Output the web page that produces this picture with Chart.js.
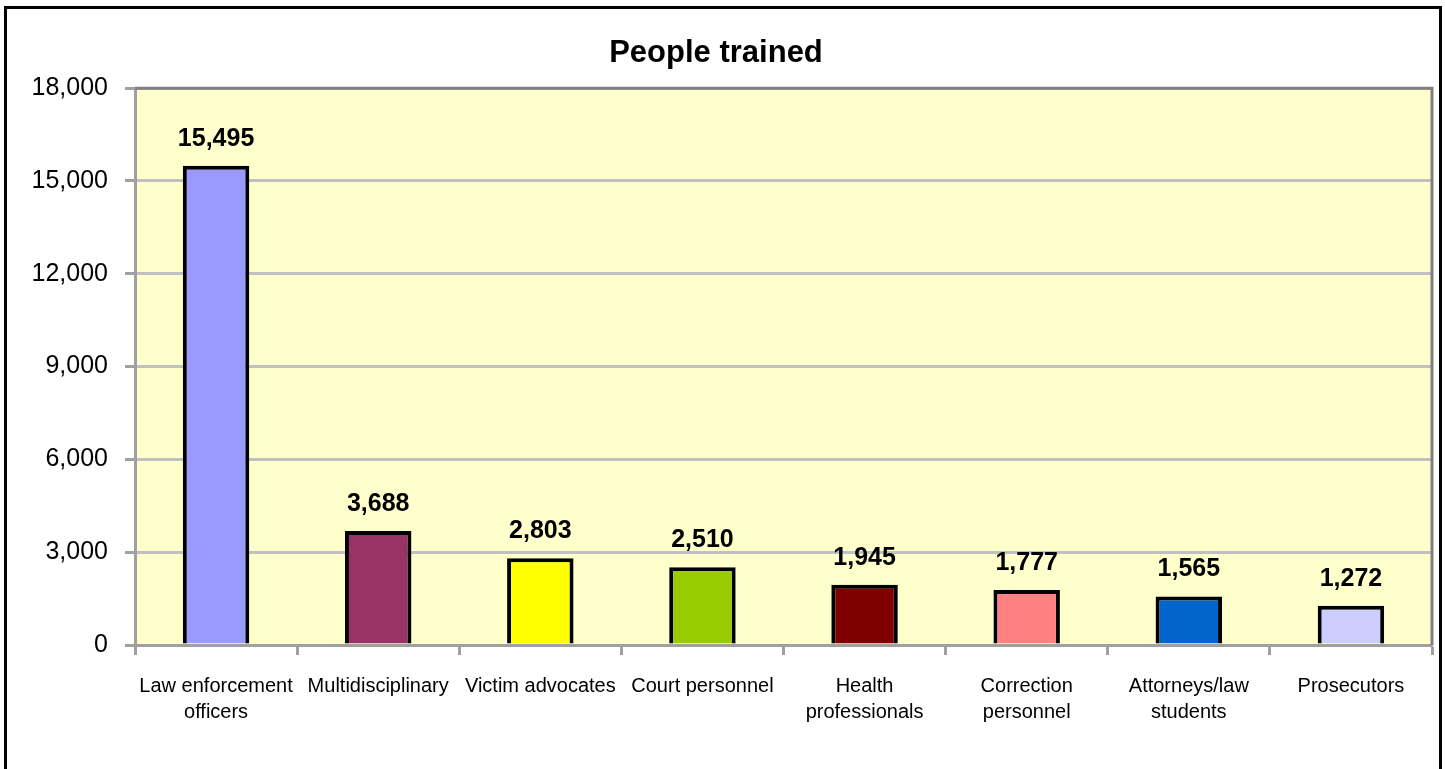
<!DOCTYPE html>
<html>
<head>
<meta charset="utf-8">
<title>People trained</title>
<script src="https://cdn.jsdelivr.net/npm/chart.js@4/dist/chart.umd.min.js"></script>
<style>
  html, body { margin: 0; padding: 0; background: #fff; }
  #wrap { position: relative; width: 1445px; height: 769px; }
</style>
</head>
<body>
<div id="wrap"><canvas id="chart" width="1445" height="769"></canvas></div>
<script>
// ── Data ──────────────────────────────────────────────────────
const categories = [
  ['Law enforcement', 'officers'],
  'Multidisciplinary',
  'Victim advocates',
  'Court personnel',
  ['Health', 'professionals'],
  ['Correction', 'personnel'],
  ['Attorneys/law', 'students'],
  'Prosecutors'
];
const trained = [15495, 3688, 2803, 2510, 1945, 1777, 1565, 1272];
const barColors = ['#9999FF', '#993366', '#FFFF00', '#99CC00', '#800000', '#FF8080', '#0066CC', '#CCCCFF'];
const yTicks = [0, 3000, 6000, 9000, 12000, 15000, 18000];

const FONT = '"Liberation Sans", Arial, sans-serif';

// ── Frame, plot background and plot border ───────────────────
const framePlugin = {
  id: 'frame',
  beforeDraw(chart) {
    const { ctx, chartArea: a } = chart;
    ctx.save();
    ctx.fillStyle = '#FFFFCC';
    ctx.fillRect(a.left, a.top, a.right - a.left, a.bottom - a.top);
    // outer chart frame (bottom edge runs off the picture)
    ctx.strokeStyle = '#000';
    ctx.lineWidth = 3;
    ctx.beginPath();
    ctx.moveTo(5.5, 780);
    ctx.lineTo(5.5, 7.5);
    ctx.lineTo(1440.5, 7.5);
    ctx.lineTo(1440.5, 780);
    ctx.stroke();
    ctx.restore();
  },
  beforeDatasetsDraw(chart) {
    const { ctx, chartArea: a } = chart;
    ctx.save();
    ctx.strokeStyle = '#808080';
    ctx.lineWidth = 3;
    ctx.beginPath();
    ctx.moveTo(a.left, a.top);
    ctx.lineTo(a.right, a.top);
    ctx.lineTo(a.right, a.bottom);
    ctx.stroke();
    ctx.restore();
  }
};

// ── Value labels above bars ───────────────────────────────────
const valueLabels = {
  id: 'valueLabels',
  afterDatasetsDraw(chart) {
    const { ctx } = chart;
    const meta = chart.getDatasetMeta(0);
    ctx.save();
    ctx.font = 'bold 25px ' + FONT;
    ctx.fillStyle = '#000';
    ctx.textAlign = 'center';
    ctx.textBaseline = 'middle';
    meta.data.forEach((bar, i) => {
      ctx.fillText(trained[i].toLocaleString('en-US'), bar.x, bar.y - 27);
    });
    ctx.restore();
  }
};

new Chart(document.getElementById('chart'), {
  type: 'bar',
  data: {
    labels: categories,
    datasets: [{
      data: trained,
      backgroundColor: barColors,
      borderColor: '#000',
      borderWidth: 4,
      barPercentage: 0.41,
      categoryPercentage: 1
    }]
  },
  options: {
    responsive: false,
    animation: false,
    layout: { padding: { top: 34, right: 13, bottom: 0, left: 0 } },
    plugins: {
      legend: { display: false },
      tooltip: { enabled: false },
      title: {
        display: true,
        text: 'People trained',
        color: '#000',
        font: { family: FONT, size: 31, weight: 'bold', lineHeight: 1.2 },
        padding: { top: 1, bottom: 16 }
      }
    },
    scales: {
      x: {
        afterFit: s => { s.height = 124; },
        grid: { offset: true, drawOnChartArea: false, drawTicks: true, tickLength: 10, tickColor: '#A0A0A0', tickWidth: 3 },
        border: { color: '#A0A0A0', width: 3 },
        ticks: {
          color: '#000',
          font: { family: FONT, size: 20, lineHeight: 1.3 },
          padding: 18,
          maxRotation: 0,
          autoSkip: false
        }
      },
      y: {
        min: 0,
        max: 18000,
        afterFit: s => { s.width = 135; },
        afterBuildTicks: s => { s.ticks = yTicks.map(v => ({ value: v })); },
        grid: { color: '#C0C0C0', lineWidth: 3, tickLength: 10, tickColor: '#A0A0A0', tickWidth: 3 },
        border: { color: '#A0A0A0', width: 3 },
        ticks: {
          color: '#000',
          font: { family: FONT, size: 25 },
          padding: 17,
          callback: v => v.toLocaleString('en-US')
        }
      }
    }
  },
  plugins: [framePlugin, valueLabels]
});
</script>
</body>
</html>
